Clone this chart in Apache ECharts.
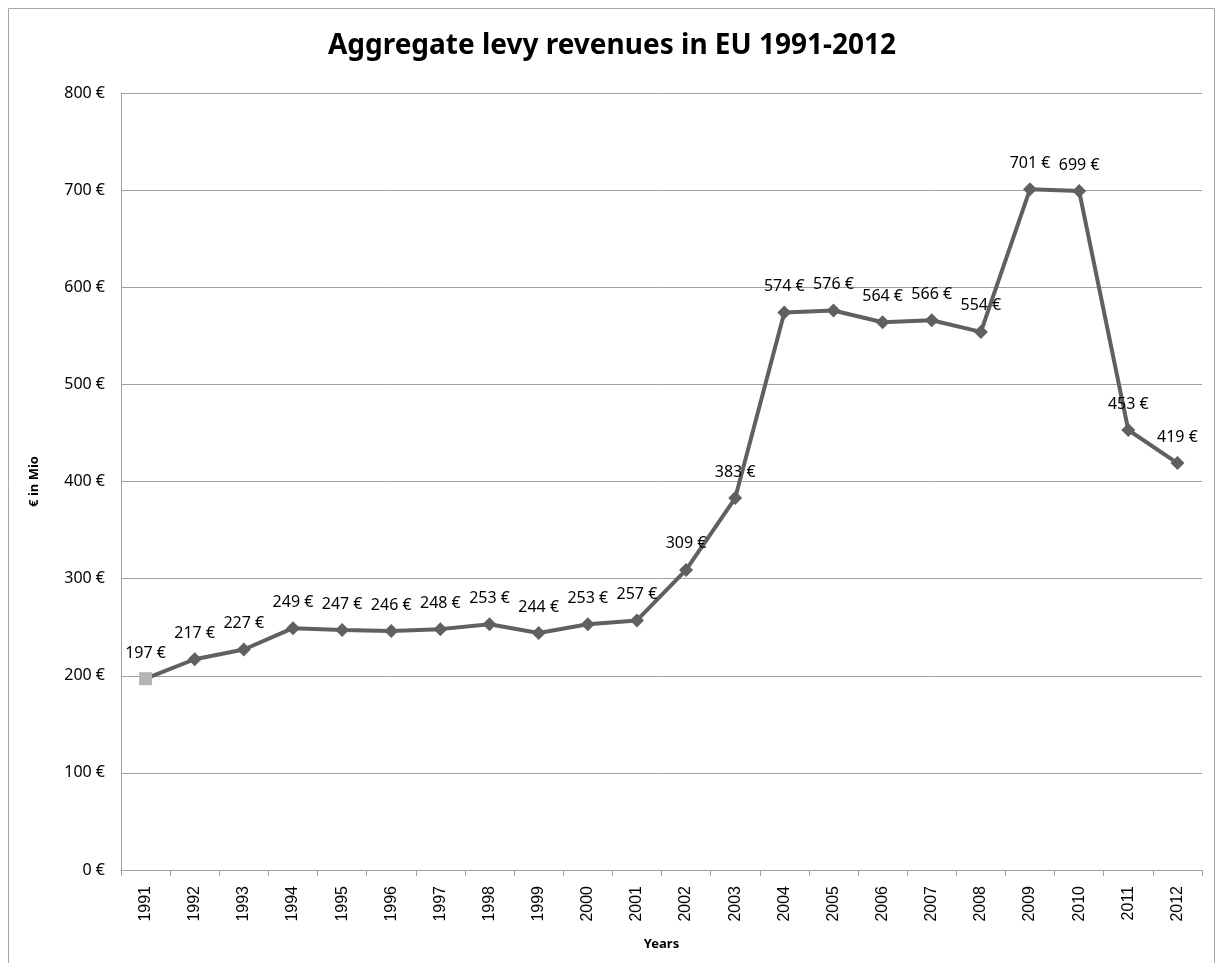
<!DOCTYPE html>
<html>
<head>
<meta charset="utf-8">
<script src="https://cdn.jsdelivr.net/npm/echarts@6/dist/echarts.min.js"></script>
<style>
  html, body { margin: 0; padding: 0; background: #fff; }
  #chart { width: 1224px; height: 963px; }
</style>
</head>
<body>
<div id="chart"></div>
<script>
const years = ["1991", "1992", "1993", "1994", "1995", "1996", "1997", "1998", "1999", "2000", "2001",
  "2002", "2003", "2004", "2005", "2006", "2007", "2008", "2009", "2010", "2011", "2012"];
const revenues = [197, 217, 227, 249, 247, 246, 248, 253, 244, 253, 257,
  309, 383, 574, 576, 564, 566, 554, 701, 699, 453, 419];

const lineColor = "#606060";

let chart = echarts.init(document.getElementById("chart"));

// first point is drawn as a light grey square, the rest as diamonds
let points = revenues.map(function (v, i) {
  if (i === 0) {
    return {
      value: v,
      symbol: "rect",
      symbolSize: 13,
      itemStyle: { color: "#b4b4b4" }
    };
  }
  return v;
});

chart.setOption({
  animation: false,
  graphic: [
    {
      type: "rect",
      shape: { x: 8.5, y: 8.5, width: 1206, height: 1000 },
      style: { fill: "none", stroke: "#a6a6a6", lineWidth: 1 },
      silent: true
    }
  ],
  title: {
    text: "Aggregate levy revenues in EU 1991-2012",
    left: "center",
    top: 27,
    textStyle: {
      fontFamily: "Noto Sans",
      fontSize: 28,
      fontWeight: "bold",
      color: "#000"
    }
  },
  grid: {
    left: 121,
    right: 22,
    top: 93,
    bottom: 93
  },
  xAxis: {
    type: "category",
    data: years,
    name: "Years",
    nameLocation: "middle",
    nameGap: 68,
    nameTextStyle: {
      fontFamily: "Noto Sans",
      fontSize: 13,
      fontWeight: "bold",
      color: "#000"
    },
    axisLine: { lineStyle: { color: "#a0a0a0", width: 1 } },
    axisTick: { show: true, length: 6, lineStyle: { color: "#a0a0a0" } },
    axisLabel: {
      rotate: 90,
      margin: 16,
      fontFamily: "Liberation Sans",
      fontSize: 16,
      color: "#000"
    }
  },
  yAxis: {
    type: "value",
    min: 0,
    max: 800,
    interval: 100,
    name: "€ in Mio",
    nameLocation: "middle",
    nameGap: 80,
    nameTextStyle: {
      fontFamily: "Noto Sans",
      fontSize: 13,
      fontWeight: "bold",
      color: "#000"
    },
    axisLine: { show: true, lineStyle: { color: "#a0a0a0", width: 1 } },
    axisTick: { show: false },
    axisLabel: {
      margin: 16,
      fontFamily: "Noto Sans",
      fontSize: 16,
      color: "#000",
      formatter: "{value} €"
    },
    splitLine: { lineStyle: { color: "#a0a0a0", width: 1 } }
  },
  series: [
    {
      name: "Revenues",
      type: "line",
      data: points,
      symbol: "diamond",
      symbolSize: 14,
      lineStyle: { color: lineColor, width: 4 },
      itemStyle: { color: lineColor },
      label: {
        show: true,
        position: "top",
        distance: 11,
        fontFamily: "Noto Sans",
        fontSize: 16,
        color: "#000",
        formatter: "{c} €"
      }
    }
  ]
});
</script>
</body>
</html>
